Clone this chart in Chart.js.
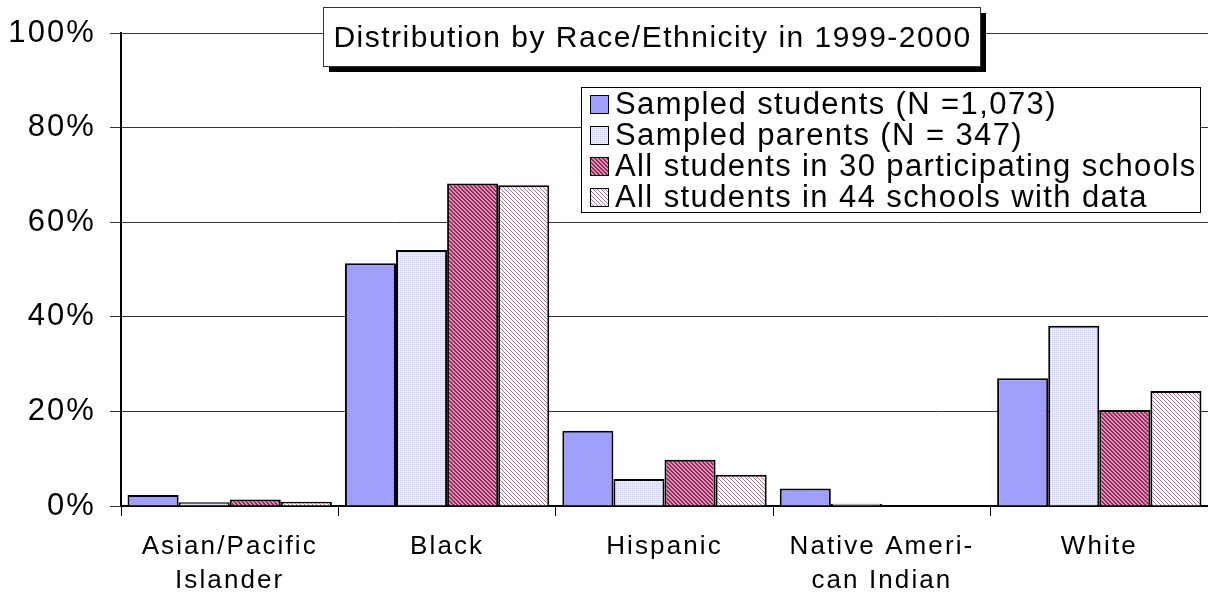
<!DOCTYPE html>
<html>
<head>
<meta charset="utf-8">
<script src="https://cdn.jsdelivr.net/npm/chart.js@4.4.0/dist/chart.umd.min.js"></script>
<style>
  html, body { margin: 0; padding: 0; background: #fff; }
  #wrap { width: 1208px; height: 593px; }
</style>
</head>
<body>
<div id="wrap"><canvas id="chart" width="1208" height="593"></canvas></div>
<script>
// data (percent)
var categories = [['Asian/Pacific', 'Islander'], 'Black', 'Hispanic', ['Native Ameri-', 'can Indian'], 'White'];
var seriesNames = [
  'Sampled students (N =1,073)',
  'Sampled parents (N = 347)',
  'All students in 30 participating schools',
  'All students in 44 schools with data'
];
var sampledStudents = [2.3, 51.3, 15.9, 3.7, 27.0];
var sampledParents = [0.8, 54.1, 5.7, 0.5, 38.1];
var schools30 = [1.4, 68.2, 9.8, 0, 20.3];
var schools44 = [0.9, 67.8, 6.6, 0, 24.3];
var yTicks = [0, 20, 40, 60, 80, 100];
var chartTitle = 'Distribution by Race/Ethnicity in 1999-2000';

var FONT = '"Liberation Sans", Arial, sans-serif';

// small fill patterns like the old excel textures
function makePattern(size, bg, fg, pixels) {
  var c = document.createElement('canvas');
  c.width = size; c.height = size;
  var g = c.getContext('2d');
  g.fillStyle = bg;
  g.fillRect(0, 0, size, size);
  g.fillStyle = fg;
  pixels.forEach(function (p) { g.fillRect(p[0], p[1], 1, 1); });
  return g.createPattern(c, 'repeat');
}
var diag = [[0,0],[1,1],[2,2],[3,3]];
var diag2 = [[0,0],[1,1],[2,2],[3,3],[1,0],[2,1],[3,2],[0,3]];
var fills = [
  makePattern(4, '#9c9cff', '#b4b4ff', [[0,0],[2,2]]),
  makePattern(4, '#ececff', '#c8c8ff', [[0,0],[2,2],[2,0],[0,2]]),
  makePattern(4, '#e090b4', '#8f2a5c', diag2),
  makePattern(4, '#ffffff', '#cc6699', diag)
];

var seriesValues = [sampledStudents, sampledParents, schools30, schools44];
var datasets = seriesValues.map(function (vals, i) {
  return {
    label: seriesNames[i],
    data: vals,
    backgroundColor: fills[i],
    borderColor: '#000',
    borderWidth: 2,
    categoryPercentage: 0.94,
    barPercentage: 1.0
  };
});

var spacing = {
  id: 'spacing',
  beforeLayout: function (chart) { chart.ctx.letterSpacing = '2.1px'; },
  beforeDraw: function (chart) { chart.ctx.letterSpacing = '2.1px'; }
};

// title box with shadow and legend box drawn inside the plot
var boxes = {
  id: 'boxes',
  afterDraw: function (chart) {
    var ctx = chart.ctx, a = chart.chartArea;
    ctx.save();
    // title
    var tx = 323, ty = 7, tw = 657, th = 59;
    ctx.fillStyle = '#000';
    ctx.fillRect(tx + 6, ty + 6, tw, th);
    ctx.fillStyle = '#fff';
    ctx.fillRect(tx, ty, tw, th);
    ctx.strokeStyle = '#333';
    ctx.lineWidth = 1;
    ctx.strokeRect(tx + 0.5, ty + 0.5, tw, th);
    ctx.fillStyle = '#000';
    ctx.font = '30px ' + FONT;
    ctx.letterSpacing = '1.5px';
    ctx.textAlign = 'center';
    ctx.textBaseline = 'middle';
    ctx.fillText(chartTitle, tx + tw / 2 + 1, ty + th / 2 + 2);

    // legend
    var lx = 581, ly = a.top + 54, lw = a.right - 8 - lx, lh = 125;
    ctx.fillStyle = '#fff';
    ctx.fillRect(lx, ly, lw, lh);
    ctx.strokeStyle = '#000';
    ctx.strokeRect(lx + 0.5, ly + 0.5, lw, lh);
    ctx.font = '31px ' + FONT;
    ctx.letterSpacing = '1.4px';
    ctx.textAlign = 'left';
    chart.data.datasets.forEach(function (ds, i) {
      var cy = ly + 17 + i * 31;
      ctx.fillStyle = ds.backgroundColor;
      ctx.fillRect(lx + 9, cy - 9, 18, 18);
      ctx.strokeStyle = '#000';
      ctx.strokeRect(lx + 9.5, cy - 8.5, 18, 18);
      ctx.fillStyle = '#000';
      ctx.fillText(ds.label, lx + 34, cy + 1);
    });
    ctx.restore();
  }
};

new Chart(document.getElementById('chart'), {
  type: 'bar',
  data: { labels: categories, datasets: datasets },
  plugins: [spacing, boxes],
  options: {
    responsive: false,
    animation: false,
    layout: { padding: { top: 33, right: 0, left: 0, bottom: 0 } },
    plugins: {
      legend: { display: false },
      title: { display: false },
      tooltip: { enabled: false }
    },
    scales: {
      x: {
        grid: { offset: true, drawOnChartArea: false, color: '#000', tickLength: 10, lineWidth: 1 },
        border: { color: '#000', width: 2 },
        ticks: { color: '#000', font: { family: FONT, size: 26, lineHeight: 1.31 }, padding: 14, maxRotation: 0, autoSkip: false },
        afterFit: function (s) { s.height = 87; }
      },
      y: {
        min: 0, max: 100,
        afterBuildTicks: function (s) { s.ticks = yTicks.map(function (v) { return { value: v }; }); },
        ticks: { color: '#000', font: { family: FONT, size: 31 }, padding: 14, callback: function (v) { return v + '%'; } },
        grid: { color: '#333', tickLength: 11, lineWidth: 1 },
        border: { color: '#000', width: 2 },
        afterFit: function (s) { s.width = 121; }
      }
    }
  }
});
</script>
</body>
</html>
